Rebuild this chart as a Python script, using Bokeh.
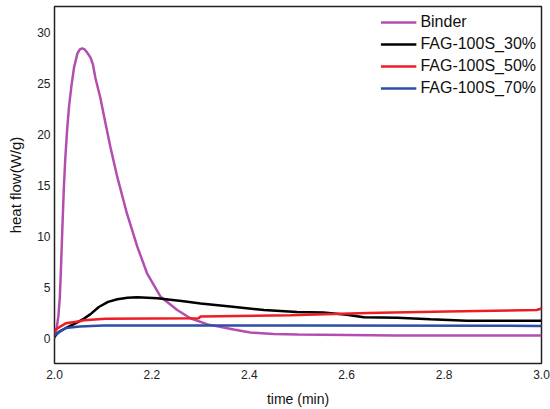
from bokeh.plotting import figure
from bokeh.models import Range1d, FixedTicker, Legend, LegendItem, NumeralTickFormatter
from bokeh.embed import file_html
from bokeh.resources import INLINE

# curves (time in min, heat flow in W/g)
binder_t = [2.000, 2.004, 2.008, 2.011, 2.013, 2.016, 2.019, 2.022, 2.026, 2.030, 2.035,
            2.040, 2.047, 2.052, 2.057, 2.062, 2.067, 2.074, 2.079, 2.084, 2.094, 2.105,
            2.115, 2.129, 2.149, 2.170, 2.190, 2.218, 2.252, 2.279, 2.314, 2.368, 2.402,
            2.450, 2.500, 2.600, 2.700, 2.800, 3.000]
binder_v = [0.0, 0.9, 2.2, 4.1, 6.5, 10.6, 14.5, 17.5, 20.5, 22.8, 24.8,
            26.5, 27.9, 28.3, 28.4, 28.3, 28.0, 27.5, 26.8, 25.5, 23.6, 21.0,
            18.7, 15.8, 12.2, 9.0, 6.4, 4.1, 2.8, 2.0, 1.4, 0.9, 0.6,
            0.45, 0.4, 0.35, 0.3, 0.3, 0.3]

fag30_t = [2.000, 2.010, 2.030, 2.045, 2.060, 2.074, 2.091, 2.110, 2.129, 2.150, 2.170,
           2.211, 2.265, 2.300, 2.361, 2.430, 2.498, 2.552, 2.600, 2.635, 2.704, 2.772,
           2.847, 3.000]
fag30_v = [0.2, 0.7, 1.2, 1.55, 1.95, 2.4, 3.1, 3.6, 3.85, 4.0, 4.06,
           3.96, 3.65, 3.45, 3.15, 2.8, 2.6, 2.55, 2.35, 2.1, 2.05, 1.9,
           1.75, 1.75]

fag50_t = [2.000, 2.002, 2.023, 2.052, 2.060, 2.105, 2.296, 2.300, 2.485, 2.642, 2.806, 2.990, 3.000]
fag50_v = [0.6, 0.9, 1.5, 1.7, 1.8, 1.95, 2.0, 2.17, 2.3, 2.5, 2.66, 2.8, 2.95]

fag70_t = [2.000, 2.002, 2.023, 2.052, 2.100, 2.500, 3.000]
fag70_v = [0.3, 0.4, 1.04, 1.2, 1.3, 1.28, 1.25]

x_ticks = [2.0, 2.2, 2.4, 2.6, 2.8, 3.0]
y_ticks = [0, 5, 10, 15, 20, 25, 30]

FONT = "Liberation Sans"

p = figure(width=550, height=409, output_backend="svg", toolbar_location=None,
           x_range=Range1d(2.0, 3.0), y_range=Range1d(-2.43, 32.5),
           min_border_left=54, min_border_right=9, min_border_top=6, min_border_bottom=45)
p.xgrid.visible = False
p.ygrid.visible = False
p.outline_line_color = "#222222"
p.outline_line_width = 1.5

for ax in (p.xaxis[0], p.yaxis[0]):
    ax.axis_line_color = None
    ax.major_tick_line_color = None
    ax.minor_tick_line_color = None
    ax.major_tick_in = 0
    ax.major_tick_out = 0
    ax.major_label_text_font = FONT
    ax.major_label_text_font_size = "12px"
    ax.major_label_text_color = "#222222"
    ax.axis_label_text_font = FONT
    ax.axis_label_text_font_style = "normal"
    ax.axis_label_text_color = "#111111"

p.xaxis.ticker = FixedTicker(ticks=x_ticks)
p.xaxis.formatter = NumeralTickFormatter(format="0.0")
p.xaxis.major_label_standoff = 6
p.xaxis.axis_label = "time (min)"
p.xaxis.axis_label_text_font_size = "14px"
p.xaxis.axis_label_standoff = 9

p.yaxis.ticker = FixedTicker(ticks=y_ticks)
p.yaxis.major_label_standoff = 4
p.yaxis.axis_label = "heat flow(W/g)"
p.yaxis.axis_label_text_font_size = "15px"
p.yaxis.axis_label_standoff = 10

lw = 2.5
r_binder = p.line(binder_t, binder_v, line_color="#B44DB0", line_width=lw)
r_30 = p.line(fag30_t, fag30_v, line_color="#000000", line_width=lw)
r_70 = p.line(fag70_t, fag70_v, line_color="#2E4DA6", line_width=lw)
r_50 = p.line(fag50_t, fag50_v, line_color="#EE1C24", line_width=lw)

legend = Legend(items=[
    LegendItem(label="Binder", renderers=[r_binder]),
    LegendItem(label="FAG-100S_30%", renderers=[r_30]),
    LegendItem(label="FAG-100S_50%", renderers=[r_50]),
    LegendItem(label="FAG-100S_70%", renderers=[r_70]),
], location="top_right")
legend.border_line_color = None
legend.background_fill_alpha = 0
legend.label_text_font = FONT
legend.label_text_font_size = "16px"
legend.label_text_color = "#111111"
legend.glyph_width = 36
legend.glyph_height = 22
legend.label_height = 22
legend.label_standoff = 4
legend.spacing = 0
legend.padding = 2
legend.margin = 5
p.add_layout(legend)

open("out.html", "w").write(file_html(p, INLINE))
